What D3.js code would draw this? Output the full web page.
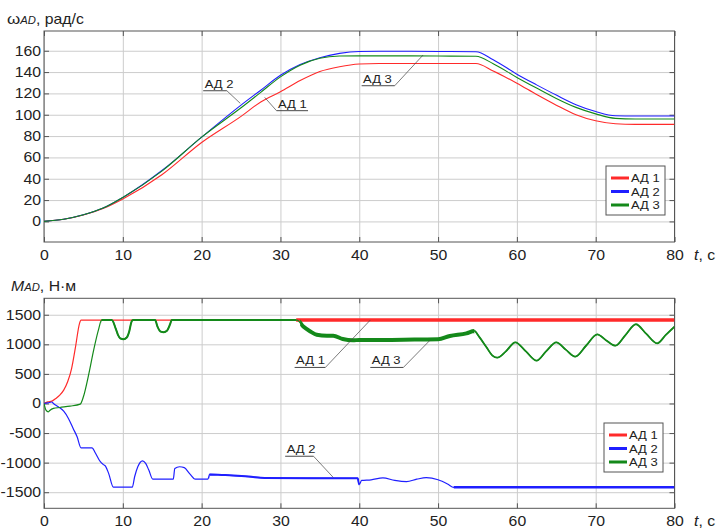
<!doctype html>
<html lang="ru">
<head>
<meta charset="utf-8">
<title>АД - скорость и момент</title>
<script src="https://cdn.jsdelivr.net/npm/d3@7"></script>
<style>
    body { margin: 0; background: #fff; }
    svg { display: block; font-family: "Liberation Sans", Arial, sans-serif; }
    .grid line { stroke: #cccccc; stroke-width: 1; }
    .grid path { display: none; }
    .ax path { display: none; }
    .ax line { stroke: #555; }
    .ax text { font-size: 14px; fill: #222; }
</style>
</head>
<body>
<svg></svg>
<script>
    var names = ['АД 1', 'АД 2', 'АД 3'];
    var colors = ['#ff2a2a', '#1f1fff', '#14891a'];

    var tTicks = [0, 10, 20, 30, 40, 50, 60, 70, 80];
    var wTicks = [0, 20, 40, 60, 80, 100, 120, 140, 160];
    var mTicks = [-1500, -1000, -500, 0, 500, 1000, 1500];

    // angular speed, рад/с
    var wTime = [0, 2.5, 5, 7.5, 10, 15, 20, 25, 27.5, 30, 32.5, 35, 37.5, 40, 42.5, 45, 50, 54.8, 57, 60, 62.5, 65, 67.5, 70, 72.5, 75, 80];
    var wAD1 = [0, 2, 6, 12, 21, 44, 74, 98.5, 112, 121.5, 132, 140.5, 145, 147.5, 148, 148, 148, 148, 141, 129.5, 119, 109, 100, 94.3, 91.5, 91, 91];
    var wAD2 = [0, 2, 6.2, 12.5, 22.5, 48, 79, 109, 123, 137, 147, 153.5, 157.5, 159.3, 159.5, 159.5, 159.3, 159, 151.6, 138, 128, 118.4, 109.4, 103, 99, 98.8, 98.8];
    var wAD3 = [0, 2, 6.2, 12.5, 22.5, 47.4, 79, 106.5, 121, 135.5, 146.5, 153, 155, 155.2, 155.2, 155.2, 155, 154.8, 147.8, 135, 125, 115.3, 106.9, 100.8, 96.6, 96, 96];

    // torque, Н·м
    var mT1 = [0, 0.5, 1, 1.5, 2, 2.5, 3, 3.5, 4, 4.5, 4.7, 80];
    var mAD1 = [0, 28, 40, 84, 140, 225, 366, 591, 957, 1351, 1410, 1410];

    var mT2 = [0, 0.5, 1, 1.2, 1.8, 2.5, 3.1, 3.7, 4.2, 4.7, 6.1, 6.5, 7.15, 7.5, 7.8, 8.2, 8.8, 11.2, 11.5, 11.9, 12.5, 12.9, 13.3, 13.8, 16.4, 16.6, 17.2, 17.8, 18.5, 19.2, 20.8, 21, 23, 26, 28, 39.8, 40, 40.3, 41.5, 43, 44.5, 46, 47.3, 48.5, 50, 51.2, 52, 80];
    var mAD2 = [0, 10, 25, 0, -56, -130, -253, -422, -563, -750, -750, -833, -985, -1030, -1059, -1182, -1415, -1415, -1239, -1070, -969, -1014, -1126, -1280, -1280, -1100, -1070, -1085, -1190, -1280, -1280, -1200, -1210, -1235, -1260, -1265, -1370, -1300, -1290, -1258, -1300, -1320, -1280, -1255, -1290, -1360, -1418, -1418];

    var mT3 = [0, 0.25, 0.55, 0.77, 1.2, 2, 3.3, 4.6, 5, 5.7, 6.3, 6.9, 7.3, 8.6, 9.1, 9.4, 9.7, 10.1, 10.5, 10.8, 11.1, 11.3, 14.1, 14.4, 14.8, 15.2, 15.6, 16, 16.2, 32.1, 32.9, 33.8, 34.6, 35.9, 36.7, 37.9, 39.2, 40, 43, 47, 50, 51.5, 53.6, 54.6, 55.2, 56.1, 56.9, 57.5, 58.6, 59.8, 61.15, 62.5, 63.7, 65, 66.2, 67.4, 68.8, 70.2, 71.3, 72.5, 73.8, 75.1, 76.4, 77.8, 78.9, 80];
    var mAD3 = [0, -113, -141, -113, -84, -68, -45, -11, 113, 507, 901, 1239, 1410, 1410, 1267, 1155, 1098, 1087, 1115, 1210, 1380, 1410, 1410, 1300, 1215, 1206, 1230, 1340, 1410, 1410, 1300, 1217, 1161, 1144, 1144, 1089, 1067, 1075, 1073, 1080, 1085, 1141, 1186, 1226, 1130, 960, 810, 774, 880, 1034, 880, 723, 880, 1034, 910, 791, 980, 1169, 1070, 977, 1160, 1339, 1180, 1017, 1160, 1299];

    var W = 716, H = 529;
    var X0 = 44, X1 = 674.5;
    var SX = 1.13; // the source glyphs are a bit wide

    var svg = d3.select('svg').attr('width', W).attr('height', H);

    function zip(t, v) {
        return t.map(function (d, i) { return [d, v[i]]; });
    }

    function plain(d) { return String(d); } // hyphen minus, like the source

    function scaledText(g, x, y) {
        return g.append('text').attr('transform', 'translate(' + x + ',' + y + ') scale(' + SX + ',1)');
    }

    var clipId = 0;

    function panel(opt) {
        var x = d3.scaleLinear().domain([0, 80]).range([X0, X1]);
        var y = d3.scaleLinear().domain(opt.yDomain).range([opt.bottom, opt.top]);
        var w = X1 - X0, h = opt.bottom - opt.top;
        var g = svg.append('g');

        g.append('g').attr('class', 'grid').attr('transform', 'translate(0,' + opt.bottom + ')')
            .call(d3.axisBottom(x).tickValues(tTicks).tickSize(-h).tickFormat(''));
        g.append('g').attr('class', 'grid').attr('transform', 'translate(' + X0 + ',0)')
            .call(d3.axisLeft(y).tickValues(opt.yTicks).tickSize(-w).tickFormat(''));

        var ax = g.append('g').attr('class', 'ax').attr('transform', 'translate(0,' + opt.bottom + ')')
            .call(d3.axisBottom(x).tickValues(tTicks).tickSize(-5).tickPadding(8).tickFormat(plain));
        ax.selectAll('text').attr('transform', 'scale(' + SX + ',1)');
        g.append('g').attr('class', 'ax').attr('transform', 'translate(0,' + opt.top + ')')
            .call(d3.axisTop(x).tickValues(tTicks).tickSize(-5).tickFormat(''));
        var ay = g.append('g').attr('class', 'ax').attr('transform', 'translate(' + X0 + ',0)')
            .call(d3.axisLeft(y).tickValues(opt.yTicks).tickSize(-5).tickPadding(3).tickFormat(plain));
        ay.selectAll('text').attr('transform', 'scale(' + SX + ',1)').attr('x', -3 / SX);
        g.append('g').attr('class', 'ax').attr('transform', 'translate(' + X1 + ',0)')
            .call(d3.axisRight(y).tickValues(opt.yTicks).tickSize(-5).tickFormat(''));

        g.append('rect').attr('x', X0).attr('y', opt.top).attr('width', w).attr('height', h)
            .attr('fill', 'none').attr('stroke', '#555').attr('stroke-width', 1);

        var cid = 'c' + (clipId++);
        g.append('clipPath').attr('id', cid).append('rect')
            .attr('x', X0).attr('y', opt.top).attr('width', w).attr('height', h);

        var line = d3.line().curve(d3.curveMonotoneX)
            .x(function (d) { return x(d[0]); })
            .y(function (d) { return y(d[1]); });

        var lines = g.append('g').attr('clip-path', 'url(#' + cid + ')');
        opt.series.forEach(function (s, i) {
            lines.append('path').datum(s).attr('d', line)
                .attr('fill', 'none').attr('stroke', colors[i]).attr('stroke-width', opt.lw)
                .attr('stroke-linejoin', 'round');
            // thicker stretches where the source trace is noisy
            (opt.bands || []).filter(function (b) { return b.s === i; }).forEach(function (b) {
                var bid = 'c' + (clipId++);
                g.append('clipPath').attr('id', bid).append('rect')
                    .attr('x', x(b.t0)).attr('y', opt.top).attr('width', x(b.t1) - x(b.t0)).attr('height', h);
                lines.append('path').datum(s).attr('d', line).attr('clip-path', 'url(#' + bid + ')')
                    .attr('fill', 'none').attr('stroke', colors[i]).attr('stroke-width', b.w)
                    .attr('stroke-linejoin', 'round');
            });
        });

        // t, c
        var tl = scaledText(g, 694, opt.bottom + 18).attr('font-size', 14).attr('fill', '#222');
        tl.append('tspan').attr('font-style', 'italic').text('t');
        tl.append('tspan').text(', с');

        // leader labels
        opt.notes.forEach(function (n) {
            var ux0 = x(n.t0), ux1 = x(n.t1), uy = y(n.v);
            var ex = x(n.te), ey = y(n.ve);
            var sx = n.side === 'left' ? ux0 : ux1;
            g.append('line').attr('x1', ux0).attr('x2', ux1).attr('y1', uy).attr('y2', uy)
                .attr('stroke', '#333').attr('stroke-width', 0.9);
            g.append('line').attr('x1', sx).attr('y1', uy).attr('x2', ex).attr('y2', ey)
                .attr('stroke', '#444').attr('stroke-width', 0.7);
            scaledText(g, ux0 + 1.5, uy - 3).attr('font-size', 11.5).attr('fill', '#222').text(names[n.s]);
        });

        // legend
        var lg = g.append('g').attr('transform', 'translate(' + opt.legend[0] + ',' + opt.legend[1] + ')');
        lg.append('rect').attr('width', 59).attr('height', 49).attr('fill', '#fff')
            .attr('stroke', '#555').attr('stroke-width', 1);
        names.forEach(function (nm, i) {
            var yy = 12 + i * 13.5;
            lg.append('line').attr('x1', 5).attr('x2', 23).attr('y1', yy).attr('y2', yy)
                .attr('stroke', colors[i]).attr('stroke-width', 3);
            scaledText(lg, 25, yy + 4).attr('font-size', 11.5).attr('fill', '#222').text(nm);
        });
        return g;
    }

    panel({
        top: 31, bottom: 242, yDomain: [-19.3, 178.5], yTicks: wTicks, lw: 1.1,
        series: [zip(wTime, wAD1), zip(wTime, wAD2), zip(wTime, wAD3)],
        notes: [
            { s: 1, t0: 20.2, t1: 23.2, v: 122.5, te: 24.9, ve: 110.7, side: 'right' },
            { s: 0, t0: 29.5, t1: 33.5, v: 103.8, te: 28.0, ve: 116.3, side: 'left' },
            { s: 2, t0: 40.3, t1: 44.5, v: 127.2, te: 48.1, ve: 156, side: 'right' }
        ],
        legend: [606, 166]
    });

    panel({
        top: 298.3, bottom: 508.3, yDomain: [-1772, 1778], yTicks: mTicks, lw: 1.2,
        series: [zip(mT1, mAD1), zip(mT2, mAD2), zip(mT3, mAD3)],
        bands: [
            { s: 0, t0: 32, t1: 80, w: 3.5 },
            { s: 1, t0: 21, t1: 40, w: 2 },
            { s: 1, t0: 52, t1: 80, w: 2.5 },
            { s: 2, t0: 7.3, t1: 32, w: 2 },
            { s: 2, t0: 32.5, t1: 54.6, w: 4 },
            { s: 2, t0: 54.6, t1: 80, w: 1.8 }
        ],
        notes: [
            { s: 0, t0: 31.8, t1: 35.7, v: 609, te: 41.4, ve: 1410, side: 'right' },
            { s: 2, t0: 41.4, t1: 45.6, v: 609, te: 49, ve: 1072, side: 'right' },
            { s: 1, t0: 30.6, t1: 34.2, v: -892, te: 36.7, ve: -1250, side: 'right' }
        ],
        legend: [604, 423]
    });

    // axis titles
    var t1 = scaledText(svg, 7, 24).attr('font-size', 14).attr('fill', '#222');
    t1.append('tspan').attr('font-size', 15).text('ω');
    t1.append('tspan').attr('font-size', 10).attr('font-style', 'italic').text('AD');
    t1.append('tspan').text(', рад/с');

    var t2 = scaledText(svg, 11, 291).attr('font-size', 14).attr('fill', '#222');
    t2.append('tspan').attr('font-style', 'italic').text('M');
    t2.append('tspan').attr('font-size', 10).attr('font-style', 'italic').text('AD');
    t2.append('tspan').text(', Н·м');
</script>
</body>
</html>
